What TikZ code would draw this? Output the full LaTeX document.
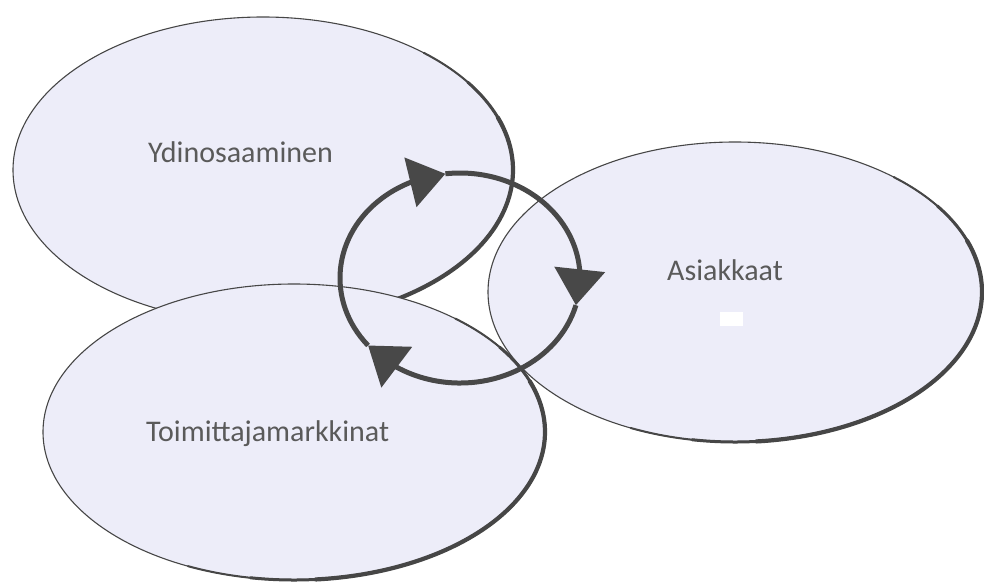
\documentclass[tikz,border=0pt]{standalone}
\usepackage{fontspec}
\setmainfont{Carlito}
\usetikzlibrary{arrows.meta,bending}

\definecolor{bubblefill}{RGB}{237,237,249}
\definecolor{rim}{RGB}{70,70,70}
\definecolor{cyclegray}{RGB}{72,72,72}
\definecolor{labeltext}{RGB}{90,90,90}

\begin{document}
\begin{tikzpicture}[x=1pt,y=-1pt,
    bubble/.style={draw=rim,line width=1.1pt,fill=bubblefill},
    rimshade/.style={draw=rim,line cap=round},
    lbl/.style={text=labeltext,font=\fontsize{30}{35}\selectfont,inner sep=0pt,anchor=base west},
    ringarc/.style={draw=cyclegray,line width=5pt,-{Triangle[flex,length=36pt,width=50pt]}}]
    % Size of the scanned page
    \useasboundingbox (0,0) rectangle (984,581);

    % Centres of the three bubbles and of the ring
    \coordinate (ydin) at (263,170);
    \coordinate (asiak) at (735,292);
    \coordinate (toim) at (294,432);
    \coordinate (ring) at (460,278);

    % Bubble with a darker lower right rim: centre, x radius, y radius
    \def\bubble(#1,#2,#3){
        \draw[bubble] (#1) ellipse [x radius=#2, y radius=#3];
        \foreach \w/\a/\b in {2/-50/115, 3/-35/100, 4.2/-20/85}
            \draw[rimshade,line width=\w pt] (#1) ++(\a:#2 and #3)
                arc[start angle=\a, end angle=\b, x radius=#2, y radius=#3];
    }

    % The three bubbles
    \bubble(ydin,250,153)
    \bubble(asiak,247,150)
    \bubble(toim,251,148)

    % Speck in the scan
    \fill[white] (720,312) rectangle (743,326);

    % Labels
    \node[lbl] (ydinlbl) at (148,162) {Ydinosaaminen};
    \node[lbl] (asiaklbl) at (667,280) {Asiakkaat};
    \node[lbl] (toimlbl) at (146,441) {Toimittajamarkkinat};

    % Cycle of three arrows
    \foreach \s/\e in {140/263, 263/375, 15/140}
        \draw[ringarc] (ring) ++(\s:120 and 105)
            arc[start angle=\s, end angle=\e, x radius=120, y radius=105];
\end{tikzpicture}
\end{document}
